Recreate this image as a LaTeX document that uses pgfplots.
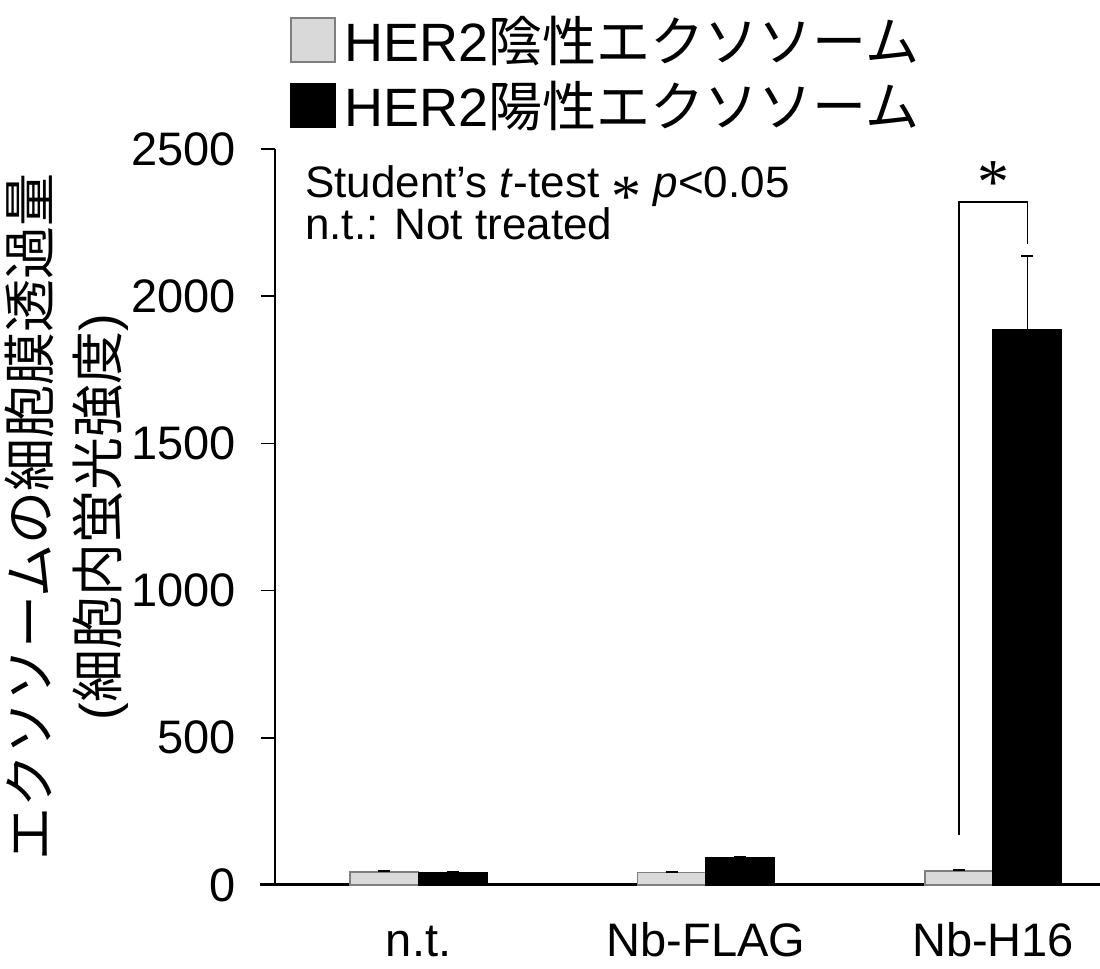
\documentclass[border=0pt]{standalone}
\usepackage{fontspec}
\setmainfont{Liberation Sans}
\newfontfamily\cjk{Noto Sans CJK JP}
\newfontfamily\serif{Liberation Serif}
\usepackage{pgfplots}
\pgfplotsset{compat=1.18}
\definecolor{lgray}{HTML}{D9D9D9}
\definecolor{egray}{HTML}{7F7F7F}
\begin{document}
\begin{tikzpicture}[x=1pt,y=1pt]
\begin{axis}[
  scale only axis, width=412.5pt, height=368pt,
  xmin=-0.5, xmax=2.372, ymin=0, ymax=2500,
  axis x line*=bottom, axis y line*=left,
  x axis line style={line width=1.5pt,-},
  y axis line style={line width=0.8pt,-},
  ybar, clip=false,
  xtick={0,1,2}, xticklabels={n.t., Nb-FLAG, Nb-H16},
  x tick style={draw=none},
  ytick={0,500,1000,1500,2000,2500},
  scaled y ticks=false,
  yticklabel style={/pgf/number format/1000 sep={}},
  tick align=outside, ytick style={line width=0.8pt, black}, major tick length=7pt,
  /pgf/number format/assume math mode=true,
  tick label style={font=\fontsize{23.5}{23.5}\selectfont},
  xticklabel style={yshift=-8pt, text height=17pt, text depth=1pt},
  yticklabel style={xshift=-9pt},
  ylabel={{\cjk エクソソームの細胞膜透過量}\\({\cjk 細胞内蛍光強度})},
  ylabel style={align=center, font=\fontsize{26.5}{34}\selectfont, at={(axis description cs:-0.252,0.5)}, anchor=center},
  legend style={at={(axis description cs:0.018,1.187)}, anchor=north west, draw=none, fill=none,
    font=\fontsize{27}{27}\selectfont, row sep=4.5pt, inner sep=0pt},
  legend cell align=left,
]
\addplot[bar width=0.238, bar shift=-0.119, fill=lgray, draw=egray, line width=0.8pt, forget plot,
  error bars/.cd, y dir=plus, y explicit,
  error bar style={black, line width=0.8pt},
  error mark options={rotate=90, mark size=3pt, black, line width=0.8pt}]
  coordinates {(0,44) +- (0,3) (1,42) +- (0,2) (2,48) +- (0,3)};
\addplot[bar width=0.238, bar shift=0.119, fill=black, draw=black, line width=0.8pt, forget plot,
  error bars/.cd, y dir=plus, y explicit,
  error bar style={black, line width=0.8pt},
  error mark options={rotate=90, mark size=3pt, black, line width=0.8pt}]
  coordinates {(0,41) +- (0,4) (1,92) +- (0,5) (2,1885) +- (0,252)};
\addlegendimage{legend image code/.code={\draw[fill=lgray, draw=egray, line width=0.8pt] (0pt,-11pt) rectangle (22pt,11pt);}}
\addlegendentry{\hspace{2.5pt}HER2{\cjk 陰性エクソソーム}}
\addlegendimage{legend image code/.code={\draw[fill=black, draw=black, line width=0.8pt] (0pt,-11pt) rectangle (22pt,11pt);}}
\addlegendentry{\hspace{2.5pt}HER2{\cjk 陽性エクソソーム}}
\draw[line width=1.5pt] (axis cs:-0.552,0) -- (axis cs:-0.5,0);
\draw[line width=0.8pt] (axis cs:1.881,170) -- (axis cs:1.881,2320) -- (axis cs:2.119,2320) -- (axis cs:2.119,2177);
\node[inner sep=0pt] at (axis cs:2,2385) {\serif\fontsize{32}{32}\selectfont *};
\node[anchor=north west, align=left, inner sep=0pt, font=\fontsize{22}{18.5}\selectfont] at (axis description cs:0.036,0.978)
  {Student’s \textit{t}-test {\serif\fontsize{30}{30}\selectfont\raisebox{-0.32em}{*}} \textit{p}<0.05\\[-5.5pt]n.t.: Not treated};
\end{axis}
\pgfresetboundingbox
\path (-137.5,-42) rectangle (412.5,442.5);
\end{tikzpicture}
\end{document}
